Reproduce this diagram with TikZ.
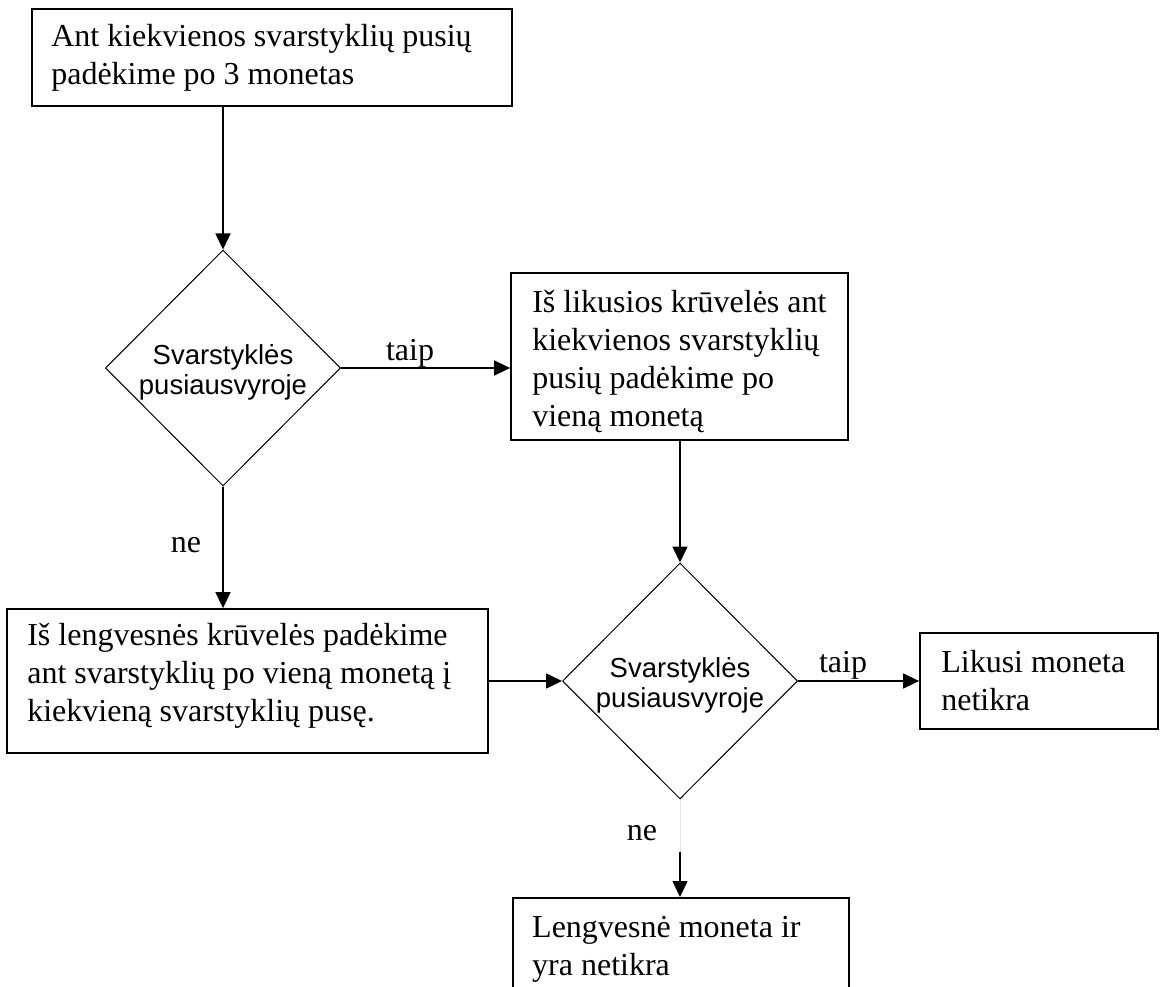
\documentclass[tikz,border=0pt]{standalone}
\usepackage{fontspec}
\setmainfont{Liberation Serif}
\newfontfamily\decisionfont{Liberation Sans}
\usetikzlibrary{shapes.geometric,arrows.meta,calc}
% multi-line text whose reference point is the first baseline
\newcommand{\boxlines}[1]{\parbox[t]{520pt}{\raggedright #1}}
\begin{document}
\begin{tikzpicture}[x=1pt,y=-1pt,
  box/.style={draw,rectangle,line width=1.8pt,inner sep=0pt},
  boxtext/.style={anchor=base west,inner sep=0pt,font=\fontsize{32}{38}\selectfont},
  decision/.style={draw,diamond,line width=1pt,inner sep=0pt,aspect=1,
    minimum width=235pt,minimum height=236pt},
  decisiontext/.style={align=center,inner sep=0pt,
    font=\decisionfont\fontsize{27.5}{30}\selectfont},
  flow/.style={line width=1.6pt,-{Triangle[length=16pt,width=15pt]}},
  answer/.style={anchor=base,inner sep=0pt,font=\fontsize{32}{38}\selectfont}]
\useasboundingbox (0,0) rectangle (1162,987);
\clip (0,0) rectangle (1162,987);

% boxes
\node[box,minimum width=480pt,minimum height=97pt] (b1) at (272,57.5) {};
\node[boxtext] (t1) at ($(b1.north west)+(20,38)$)
  {\boxlines{Ant kiekvienos svarstyklių pusių\\padėkime po 3 monetas}};

\node[box,minimum width=337pt,minimum height=167pt] (b2) at (679.5,356.5) {};
\node[boxtext] (t2) at ($(b2.north west)+(22,40)$)
  {\boxlines{Iš likusios krūvelės ant\\kiekvienos svarstyklių\\pusių padėkime po\\vieną monetą}};

\node[box,minimum width=481pt,minimum height=144pt] (b3) at (247.5,681) {};
\node[boxtext] (t3) at ($(b3.north west)+(21,37)$)
  {\boxlines{Iš lengvesnės krūvelės padėkime\\ant svarstyklių po vieną monetą į\\kiekvieną svarstyklių pusę.}};

\node[box,minimum width=238pt,minimum height=96pt] (b4) at (1039,681) {};
\node[boxtext] (t4) at ($(b4.north west)+(22,40)$)
  {\boxlines{Likusi moneta\\netikra}};

\node[box,minimum width=336pt,minimum height=130pt,anchor=north west] (b5) at (512,897) {};
\node[boxtext] (t5) at ($(b5.north west)+(20,40)$)
  {\boxlines{Lengvesnė moneta ir\\yra netikra}};

% decisions
\node[decision] (d1) at (223,368) {};
\node[decisiontext] (d1t) at ($(d1.center)+(0,4)$) {Svarstyklės\\pusiausvyroje};
\node[decision] (d2) at (680,681) {};
\node[decisiontext] (d2t) at ($(d2.center)+(0,4)$) {Svarstyklės\\pusiausvyroje};

% connectors
\draw[flow] (b1.south -| d1.north) -- (d1.north);
\draw[flow] (d1.east) -- (d1.east -| b2.west);
\draw[flow] (d1.south) -- (d1.south |- b3.north);
\draw[flow] (b2.south -| d2.north) -- (d2.north);
\draw[flow] (b3.east |- d2.west) -- (d2.west);
\draw[flow] (d2.east) -- (d2.east -| b4.west);
\coordinate (n2) at ($(d2.south)+(0,52)$);
\draw[line width=1pt,black!10] (d2.south) -- (n2);
\draw[flow] (n2) -- (n2 |- b5.north);

% answers
\node[answer] (y1) at (410,360) {taip};
\node[answer] (y2) at (843,672) {taip};
\node[answer] (n1) at (186,552) {ne};
\node[answer] (n2l) at (642,840) {ne};
\end{tikzpicture}
\end{document}
